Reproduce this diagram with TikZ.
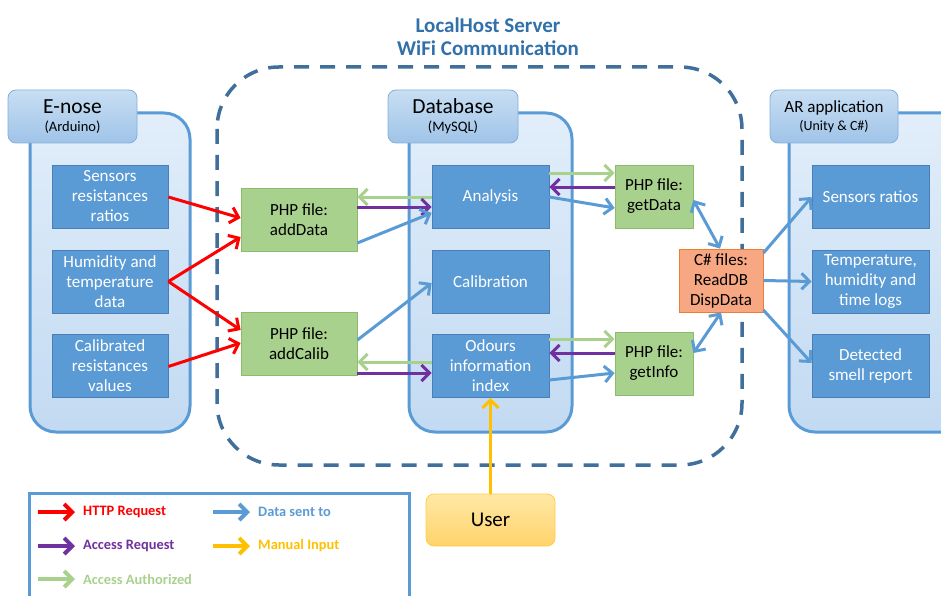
\documentclass[tikz,border=0pt]{standalone}
\usepackage{fontspec}
\setmainfont{Carlito}
\usetikzlibrary{arrows.meta,calc}
\definecolor{cblue}{HTML}{5B9BD5}
\definecolor{cdark}{HTML}{4A7EBB}
\definecolor{cred}{HTML}{FF0000}
\definecolor{cpurple}{HTML}{7030A0}
\definecolor{cgreen}{HTML}{A9D18E}
\definecolor{cyellow}{HTML}{FFC000}
\definecolor{dashc}{HTML}{3F6F9A}
\definecolor{titlec}{HTML}{3270AA}
\definecolor{gfill}{HTML}{A9D18E}
\definecolor{gborder}{HTML}{8CBB6C}
\definecolor{ofill}{HTML}{F7A883}
\definecolor{oborder}{HTML}{ED7D31}
\definecolor{hdrtop}{HTML}{C8DEF3}
\definecolor{hdrbot}{HTML}{9FC4E8}
\definecolor{hdrline}{HTML}{86AEDB}
\definecolor{bodytop}{HTML}{E2EEFA}
\definecolor{bodybot}{HTML}{C2DAF2}
\definecolor{usertop}{HTML}{FFE8A6}
\definecolor{userbot}{HTML}{FFD36B}
\definecolor{userline}{HTML}{FFCC4D}
\begin{document}
\begin{tikzpicture}[x=1pt,y=-1pt,
  inner/.style={draw=cdark, line width=0.8pt, fill=cblue, text=white,
    minimum width=117pt, minimum height=63pt, inner sep=0pt, align=center,
    font=\fontsize{17}{20}\selectfont},
  phpbox/.style={draw=gborder, line width=0.8pt, fill=gfill, text=black,
    minimum height=63pt, inner sep=0pt, align=center,
    font=\fontsize{17}{20}\selectfont},
  csbox/.style={draw=oborder, line width=0.8pt, fill=ofill, text=black,
    minimum width=84pt, minimum height=63pt, inner sep=0pt, align=center,
    font=\fontsize{17}{20}\selectfont},
  hdr/.style={draw=hdrline, line width=0.8pt, rounded corners=8pt,
    top color=hdrtop, bottom color=hdrbot, minimum height=53pt,
    inner sep=0pt, align=center, text=black},
  body/.style={draw=cblue, line width=3pt, rounded corners=26pt,
    top color=bodytop, bottom color=bodybot},
  titletext/.style={text=titlec, font=\fontsize{21}{22}\selectfont\bfseries},
  srv/.style={draw=dashc, line width=3.5pt, dash pattern=on 15pt off 11pt,
    rounded corners=62pt},
  conn/.style={line width=3pt, -{Straight Barb[length=8pt,width=16pt]}},
  bidir/.style={line width=3pt, {Straight Barb[length=8pt,width=16pt]}-{Straight Barb[length=8pt,width=16pt]}},
  legtext/.style={anchor=west, inner sep=0pt, font=\fontsize{14.4}{16}\selectfont\bfseries},
]
\useasboundingbox (0,0) rectangle (941,596);
\clip (0,0) rectangle (941,596);

% title
\node[titletext] (t1) at (488,25) {LocalHost Server};
\node[titletext] (t2) at (488,48) {WiFi Communication};

% server boundary
\draw[srv] (217,67) rectangle (742,465);

% containers
\draw[body] (30,113) rectangle (190,432);
\node[hdr, minimum width=129pt] (enh) at (72.5,116.5)
  {{\fontsize{21.5}{22}\selectfont E-nose}\\[6pt]{\fontsize{14.5}{16}\selectfont (Arduino)}};
\draw[body] (409,113) rectangle (572,432);
\node[hdr, minimum width=130pt] (dbh) at (453,116.5)
  {{\fontsize{21.5}{22}\selectfont Database}\\[6pt]{\fontsize{14.5}{16}\selectfont (MySQL)}};
\draw[body] (789,113) rectangle (970,432);
\node[hdr, minimum width=128pt] (arh) at (834,116.5)
  {{\fontsize{17}{18}\selectfont AR application}\\[4pt]{\fontsize{14}{16}\selectfont (Unity \& C\#)}};

% E-nose boxes
\node[inner, minimum width=116pt] (s1) at (110,196.5) {Sensors\\resistances\\ratios};
\node[inner, minimum width=116pt] (s2) at (110,281.5) {Humidity and\\temperature\\data};
\node[inner, minimum width=116pt] (s3) at (110,366) {Calibrated\\resistances\\values};

% PHP add boxes
\node[phpbox, minimum width=116pt] (ad) at (299,219.5) {PHP file:\\addData};
\node[phpbox, minimum width=116pt] (ac) at (299,343.5) {PHP file:\\addCalib};

% Database boxes
\node[inner] (a1) at (490.5,196.5) {Analysis};
\node[inner] (a2) at (490.5,281.5) {Calibration};
\node[inner] (a3) at (490.5,366) {Odours\\information\\index};

% PHP get boxes
\node[phpbox, minimum width=78pt] (gd) at (654,196.5) {PHP file:\\getData};
\node[phpbox, minimum width=78pt] (gi) at (654,363.5) {PHP file:\\getInfo};

% C# box
\node[csbox] (cs) at (721,280.5) {C\# files:\\ReadDB\\DispData};

% AR boxes
\node[inner] (r1) at (870.5,196.5) {Sensors ratios};
\node[inner] (r2) at (870.5,281.5) {Temperature,\\humidity and\\time logs};
\node[inner] (r3) at (870.5,366) {Detected\\smell report};

% User
\node[draw=userline, line width=0.8pt, rounded corners=8pt, top color=usertop,
  bottom color=userbot, minimum width=129pt, minimum height=52pt,
  font=\fontsize{21}{24}\selectfont] (user) at (490.5,520) {User};

% HTTP requests
\draw[conn, cred] ($(s1.east)+(0,0.5)$) -- ($(ad.west)+(0,-1.5)$);
\draw[conn, cred] (s2.east) -- ($(ad.west)+(0,17.5)$);
\draw[conn, cred] (s2.east) -- ($(ac.west)+(0,-13.5)$);
\draw[conn, cred] ($(s3.east)+(0,0.5)$) -- ($(ac.west)+(0,-0.5)$);

% addData / addCalib <-> Database
\draw[conn, cgreen] ($(a1.west)+(0,0.5)$) -- ($(ad.east)+(0,-22.5)$);
\draw[conn, cpurple] ($(ad.east)+(0,-12.5)$) -- ($(a1.west)+(0,10.5)$);
\draw[conn, cblue] ($(ad.east)+(0,23.5)$) -- ($(a1.west)+(0,16.5)$);
\draw[conn, cgreen] ($(a3.west)+(0,-4)$) -- ($(ac.east)+(0,18.5)$);
\draw[conn, cpurple] ($(ac.east)+(0,29.5)$) -- ($(a3.west)+(0,7)$);
\draw[conn, cblue] ($(ac.east)+(0,-3.5)$) -- ($(a2.west)+(0,1.5)$);

% Database <-> getData / getInfo
\draw[conn, cgreen] ($(a1.east)+(0,-23.5)$) -- ($(gd.west)+(0,-23.5)$);
\draw[conn, cpurple] ($(gd.west)+(0,-9.5)$) -- ($(a1.east)+(0,-9.5)$);
\draw[conn, cblue] ($(a1.east)+(0,0.5)$) -- ($(gd.west)+(0,11.5)$);
\draw[conn, cgreen] ($(a3.east)+(0,-27)$) -- ($(gi.west)+(0,-24.5)$);
\draw[conn, cpurple] ($(gi.west)+(0,-10.5)$) -- ($(a3.east)+(0,-13)$);
\draw[conn, cblue] ($(a3.east)+(0,14)$) -- ($(gi.west)+(0,9.5)$);

% getData / getInfo <-> C#
\draw[bidir, cblue] ($(gd.east)+(0,3.5)$) -- ($(cs.north)+(-1,0)$);
\draw[bidir, cblue] ($(gi.east)+(0,-10.5)$) -- (cs.south);

% C# -> AR
\draw[conn, cblue] ($(cs.east)+(0,-27.5)$) -- ($(r1.west)+(0,0.5)$);
\draw[conn, cblue] (cs.east) -- (r2.west);
\draw[conn, cblue] ($(cs.east)+(0,29.5)$) -- ($(r3.west)+(0,-3)$);

% manual input
\draw[conn, cyellow] (user.north) -- (a3.south);

% legend
\draw[cblue, line width=3pt] (29,493) rectangle (409,640);
\coordinate (lr0) at (38,512);   \coordinate (lr1) at (75,512);
\coordinate (lp0) at (38,546);   \coordinate (lp1) at (75,546);
\coordinate (lg0) at (38,579);   \coordinate (lg1) at (75,579);
\coordinate (lb0) at (213,512);  \coordinate (lb1) at (250,512);
\coordinate (ly0) at (213,546);  \coordinate (ly1) at (250,546);
\draw[conn, cred, line width=4pt] (lr0) -- (lr1);
\draw[conn, cpurple, line width=4pt] (lp0) -- (lp1);
\draw[conn, cgreen, line width=4pt] (lg0) -- (lg1);
\draw[conn, cblue, line width=4pt] (lb0) -- (lb1);
\draw[conn, cyellow, line width=4pt] (ly0) -- (ly1);
\node[legtext, text=cred] (l1) at (83,512) {HTTP Request};
\node[legtext, text=cpurple] (l2) at (83,546) {Access Request};
\node[legtext, text=cgreen] (l3) at (83,579) {Access Authorized};
\node[legtext, text=cblue] (l4) at (258,512) {Data sent to};
\node[legtext, text=cyellow] (l5) at (258,546) {Manual Input};
\end{tikzpicture}
\end{document}
